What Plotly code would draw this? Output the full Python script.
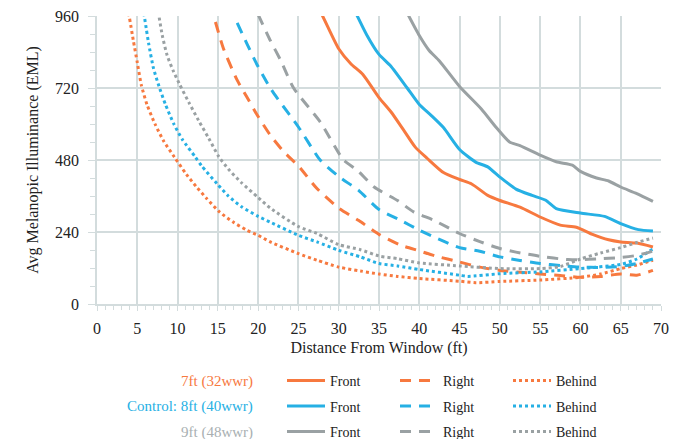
import plotly.graph_objects as go

# ---------------- data ----------------
# 7ft (32wwr)
x_7_front = [27, 28, 30, 31.5, 33, 35, 36.5, 38, 39.5, 41, 43, 45, 46.5, 48.5, 50, 52.5, 55, 57.5, 59.5, 61.5, 63.5, 65, 67, 69]
y_7_front = [1010, 960, 851, 801, 765, 688, 640, 582, 523, 485, 438, 415, 400, 362, 345, 323, 290, 263, 256, 232, 214, 207, 203, 190]
x_7_right = [14.7, 15.7, 17.4, 18.6, 19.9, 21.5, 23.2, 25, 27.3, 30, 32.5, 35, 37.7, 40, 42, 45, 47.5, 50, 52.5, 55, 57.5, 60, 62.5, 65, 67, 69]
y_7_right = [940, 851, 746, 690, 629, 563, 507, 460, 385, 320, 278, 232, 196, 177, 160, 140, 123, 112, 106, 100, 95, 89, 92, 100, 96, 112]
x_7_behind = [3.8, 4.5, 5.0, 5.5, 6.2, 7.2, 8.3, 9.6, 11.1, 12.3, 13.6, 15.2, 16.9, 18.6, 20, 21.5, 25, 27.3, 30, 32.7, 35, 37.3, 40, 45, 47, 50, 55, 60, 62.5, 65, 67, 69]
y_7_behind = [990, 880, 805, 730, 665, 600, 542, 490, 432, 392, 352, 307, 273, 246, 229, 207, 168, 146, 123, 110, 100, 92, 85, 76, 71, 75, 80, 89, 100, 118, 130, 146]

# Control: 8ft (40wwr)
x_8_front = [32, 33.5, 35, 36.5, 38.5, 40, 41.5, 43, 45, 47, 48.5, 50, 52, 54, 55.7, 57, 60, 63, 65, 67.2, 69]
y_8_front = [977, 896, 832, 792, 720, 665, 628, 588, 515, 473, 457, 423, 383, 362, 346, 318, 303, 292, 268, 248, 243]
x_8_right = [17.4, 18.6, 19.9, 21.5, 22.4, 25, 27.7, 30, 32.5, 35, 37.7, 40, 42, 45, 47.5, 50, 52.5, 55, 57.5, 60, 62.5, 65, 67, 69]
y_8_right = [937, 868, 796, 720, 685, 590, 480, 425, 378, 315, 279, 246, 221, 188, 176, 157, 145, 135, 128, 123, 122, 125, 135, 150]
x_8_behind = [5.7, 6.4, 7.0, 7.7, 8.5, 9.5, 10.6, 12.2, 13.0, 14.9, 16.3, 17.9, 20, 21.5, 25, 27.3, 30, 32.7, 35, 37.3, 40, 45, 46, 50, 55, 60, 65, 67, 69]
y_8_behind = [990, 870, 787, 725, 665, 602, 548, 490, 460, 401, 360, 325, 292, 273, 229, 207, 179, 157, 135, 127, 115, 96, 92, 101, 107, 118, 132, 150, 184]

# 9ft (48wwr)
x_9_front = [38.5, 40, 41.2, 42.5, 45, 47.7, 49.5, 51.2, 52.5, 55, 57, 59, 60, 62, 63.5, 65, 67, 69]
y_9_front = [970, 895, 846, 810, 725, 650, 590, 540, 528, 496, 474, 463, 442, 420, 410, 390, 368, 342]
x_9_right = [20, 21.5, 22.8, 24.4, 27.7, 30.6, 32.3, 34.4, 37.3, 39.3, 41.8, 45, 47.6, 50, 52, 55, 58.4, 60, 62, 65, 67, 69]
y_9_right = [965, 879, 812, 720, 607, 480, 446, 390, 345, 307, 279, 235, 207, 185, 173, 159, 148, 148, 150, 155, 162, 176]
x_9_behind = [7.6, 8.1, 8.7, 9.5, 10.2, 11.4, 12.6, 13.9, 15.1, 16.3, 17.9, 20, 21.5, 25, 27.3, 30, 32.7, 35, 37.3, 40, 45, 50, 55, 57.5, 60, 62.5, 65, 67, 69]
y_9_behind = [975, 896, 829, 775, 735, 672, 612, 551, 492, 450, 405, 355, 320, 258, 235, 198, 181, 160, 151, 137, 127, 118, 118, 125, 150, 170, 188, 205, 220]

group_labels = ["7ft (32wwr)", "Control: 8ft (40wwr)", "9ft (48wwr)"]
direction_labels = ["Front", "Right", "Behind"]
x_ticks = list(range(0, 71, 5))
y_ticks = [0, 240, 480, 720, 960]

# ---------------- styling ----------------
ORANGE = "#F7793F"
BLUE = "#26B0E4"
GRAY = "#9AA1A3"
GRID = "#D3DCDD"
SERIF = "Liberation Serif"
DASHES = {"Front": "solid", "Right": "11px,8px", "Behind": "3px,3px"}

groups = [
    (ORANGE, "legend", [(x_7_front, y_7_front), (x_7_right, y_7_right), (x_7_behind, y_7_behind)]),
    (BLUE, "legend2", [(x_8_front, y_8_front), (x_8_right, y_8_right), (x_8_behind, y_8_behind)]),
    (GRAY, "legend3", [(x_9_front, y_9_front), (x_9_right, y_9_right), (x_9_behind, y_9_behind)]),
]

fig = go.Figure()
for color, leg, series in groups:
    for name, (xs, ys) in zip(direction_labels, series):
        fig.add_trace(go.Scatter(
            x=xs, y=ys, mode="lines", name=name, legend=leg,
            line=dict(color=color, width=3, dash=DASHES[name], shape="spline", smoothing=0.6),
            hoverinfo="skip",
        ))

# plot area in pixels: x 97..661, y 16..304
W, H = 684, 439
L, R, T, B = 97, 23, 16, 135

row_py = [381, 406.5, 432]
legend_common = dict(
    orientation="h", xanchor="left", yanchor="middle",
    xref="container", yref="container",
    x=282 / W, bgcolor="rgba(0,0,0,0)",
    font=dict(family=SERIF, size=14, color="#222222"),
    itemwidth=38, entrywidth=60, entrywidthmode="pixels",
    itemclick=False, itemdoubleclick=False, traceorder="normal",
)

layout_legends = {}
for i, leg in enumerate(["legend", "legend2", "legend3"]):
    d = dict(legend_common)
    d["y"] = 1 - row_py[i] / H
    layout_legends[leg] = d

annotations = []
for lbl, color, py in zip(group_labels, [ORANGE, BLUE, "#A9B0B2"], row_py):
    annotations.append(dict(
        text=lbl, xref="paper", yref="paper",
        x=(255 - L) / (W - L - R), y=(H - B - py) / (H - T - B),
        xanchor="right", yanchor="middle", showarrow=False,
        font=dict(family=SERIF, size=15, color=color),
    ))

fig.update_layout(
    width=W, height=H,
    margin=dict(l=L, r=R, t=T, b=B, pad=0, autoexpand=False),
    paper_bgcolor="white", plot_bgcolor="white",
    font=dict(family=SERIF, size=16, color="#222222"),
    showlegend=True,
    annotations=annotations,
    **layout_legends,
)

fig.update_xaxes(
    range=[0, 70], tickvals=x_ticks, ticktext=[str(v) for v in x_ticks],
    automargin=False,
    showgrid=True, gridcolor=GRID, gridwidth=1.5,
    showline=True, linecolor=GRID, linewidth=1.5,
    ticks="outside", ticklen=5, tickcolor=GRID, tickwidth=1,
    ticklabelstandoff=4,
    minor=dict(dtick=1, ticks="outside", ticklen=4, tickcolor=GRID, showgrid=False),
    zeroline=False,
    tickfont=dict(family=SERIF, size=16, color="#222222"),
    title=dict(text="Distance From Window (ft)", font=dict(family=SERIF, size=16, color="#222222"), standoff=6),
)
fig.update_yaxes(
    range=[0, 960], tickvals=y_ticks, ticktext=[str(v) for v in y_ticks],
    automargin=False,
    showgrid=True, gridcolor=GRID, gridwidth=1.5,
    showline=True, linecolor=GRID, linewidth=1.5,
    ticks="outside", ticklen=7, tickcolor=GRID, tickwidth=1,
    ticklabelstandoff=6,
    minor=dict(dtick=60, ticks="outside", ticklen=5, tickcolor=GRID, showgrid=False),
    zeroline=False,
    tickfont=dict(family=SERIF, size=16, color="#222222"),
    title=dict(text="Avg Melanopic Illuminance (EML)", font=dict(family=SERIF, size=16, color="#222222"), standoff=12),
)

fig.write_html(
    "out.html",
    config={"displayModeBar": False},
    post_script="document.body.style.margin='0';document.body.style.overflow='hidden';",
)
